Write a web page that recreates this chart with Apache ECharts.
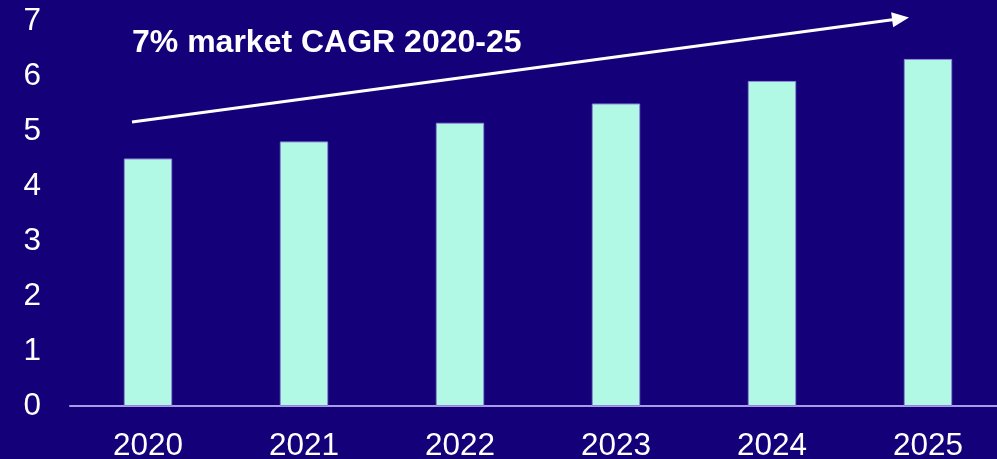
<!DOCTYPE html>
<html>
<head>
<meta charset="utf-8">
<style>
  html, body { margin: 0; padding: 0; background: #140078; }
  #chart { width: 997px; height: 459px; }
</style>
<script src="https://cdn.jsdelivr.net/npm/echarts@6/dist/echarts.min.js"></script>
</head>
<body>
<div id="chart"></div>
<script>
const categories = ['2020', '2021', '2022', '2023', '2024', '2025'];
const marketValues = [4.50, 4.81, 5.15, 5.50, 5.91, 6.31];
const yTicks = [0, 1, 2, 3, 4, 5, 6, 7];
const annotationText = '7% market CAGR 2020-25';

const chart = echarts.init(document.getElementById('chart'));

// arrow annotation geometry
const ax0 = 132, ay0 = 122, ax1 = 909, ay1 = 17.5;
const ang = Math.atan2(ay1 - ay0, ax1 - ax0);
const headLen = 17, headHalf = 7.5;
const bx = ax1 - headLen * Math.cos(ang), by = ay1 - headLen * Math.sin(ang);
const px = -Math.sin(ang), py = Math.cos(ang);

chart.setOption({
  backgroundColor: '#140078',
  animation: false,
  grid: { left: 70, top: 21, width: 936, bottom: 53, containLabel: false, outerBoundsMode: 'none' },
  xAxis: {
    type: 'category',
    data: categories,
    axisLine: { show: true, lineStyle: { color: '#a89ce8', width: 2 } },
    axisTick: { show: false },
    axisLabel: { color: '#ffffff', fontSize: 31.5, fontFamily: 'Liberation Sans, Arial, sans-serif', margin: 24 },
    splitLine: { show: false }
  },
  yAxis: {
    type: 'value',
    min: yTicks[0],
    max: yTicks[yTicks.length - 1],
    interval: 1,
    axisLine: { show: false },
    axisTick: { show: false },
    splitLine: { show: false },
    axisLabel: { color: '#ffffff', fontSize: 31.5, fontFamily: 'Liberation Sans, Arial, sans-serif', margin: 29 }
  },
  series: [{
    type: 'bar',
    data: marketValues,
    barWidth: '31%',
    itemStyle: { color: '#b2f9e5', borderColor: '#8e8ad8', borderWidth: 1 }
  }],
  graphic: [
    {
      type: 'text',
      left: 132, top: 27,
      style: {
        text: annotationText,
        fill: '#ffffff',
        font: 'bold 32px "Liberation Sans", Arial, sans-serif'
      }
    },
    {
      type: 'line',
      shape: { x1: ax0, y1: ay0, x2: bx + 2 * Math.cos(ang), y2: by + 2 * Math.sin(ang) },
      style: { stroke: '#ffffff', lineWidth: 3 }
    },
    {
      type: 'polygon',
      shape: { points: [[ax1, ay1], [bx + px * headHalf, by + py * headHalf], [bx - px * headHalf, by - py * headHalf]] },
      style: { fill: '#ffffff' }
    }
  ]
});
</script>
</body>
</html>
